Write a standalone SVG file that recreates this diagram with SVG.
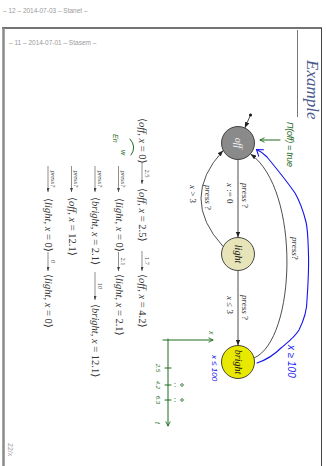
<svg xmlns="http://www.w3.org/2000/svg" width="326" height="466" viewBox="0 0 326 466">
<defs>
<style>
.hdr{font-family:"Liberation Sans",sans-serif;font-size:6.5px;fill:#9a9a9a}
.ttl{font-family:"Liberation Serif",serif;font-style:italic;font-size:17px;fill:#4b5a8c}
.st{stroke:#333;stroke-width:0.9}
.sl{font-family:"Liberation Serif",serif;font-style:italic;font-size:10px;text-anchor:middle}
.el{font-family:"Liberation Serif",serif;font-size:9px;fill:#333}
.i{font-style:italic}
.run{font-family:"Liberation Serif","DejaVu Serif",serif;font-size:10.5px;fill:#333}
.al{font-family:"Liberation Serif",serif;font-size:6.5px;fill:#444;text-anchor:middle}
.edge{fill:none;stroke:#222;stroke-width:0.8}
.ra{stroke:#444;stroke-width:0.6}
.blue{fill:none;stroke:#1414f0;stroke-width:1.1;stroke-linecap:round;stroke-linejoin:round}
.bt{font-family:"Liberation Sans",sans-serif;font-style:italic;fill:#1414f0}
.green{fill:none;stroke:#1f6b1f;stroke-width:1;stroke-linecap:round;stroke-linejoin:round}
.gt{font-family:"Liberation Sans",sans-serif;font-style:italic;fill:#1f6b1f}
</style>
<marker id="ah" viewBox="0 0 8 6" refX="8" refY="3" markerWidth="6" markerHeight="4.5" markerUnits="userSpaceOnUse" orient="auto"><path d="M0,0 L8,3 L0,6 Z" fill="#222"/></marker>
<marker id="ar" viewBox="0 0 8 6" refX="8" refY="3" markerWidth="4" markerHeight="3" markerUnits="userSpaceOnUse" orient="auto"><path d="M0,0 L8,3 L0,6 Z" fill="#444"/></marker>
<marker id="ag" viewBox="0 0 8 8" refX="7" refY="4" markerWidth="6" markerHeight="6" markerUnits="userSpaceOnUse" orient="auto"><path d="M1,1 L7,4 L1,7" fill="none" stroke="#1f6b1f" stroke-width="1.2"/></marker>
</defs>

<g id="page">
<text class="hdr" x="3" y="13">– 12 – 2014-07-03 – Stanet –</text>
<line x1="2" y1="28" x2="322" y2="28" stroke="#444" stroke-width="1.5"/>
<line x1="321.5" y1="28" x2="321.5" y2="466" stroke="#444" stroke-width="1"/>
<line x1="3.5" y1="28" x2="3.5" y2="466" stroke="#8a8a8a" stroke-width="2.5"/>
<text class="hdr" x="9" y="45">– 11 – 2014-07-01 – Stasem –</text>
</g>

<g id="slide" transform="translate(326,0) rotate(90)">
  <text class="ttl" x="60" y="19">Example</text>
  <line x1="30" y1="28.5" x2="117" y2="28.5" stroke="#777" stroke-width="1"/>
  <text class="hdr" x="443" y="318" style="font-size:7px">22/x</text>

  <g id="connectors">
    <circle cx="115" cy="75.5" r="1.5" fill="#111"/>
    <line class="edge" x1="115" y1="75.5" x2="128" y2="81.2" marker-end="url(#ah)"/>
    <line class="edge" x1="159.5" y1="88" x2="237.5" y2="88" marker-end="url(#ah)"/>
    <path class="edge" d="M246.6,102.8 Q198.5,147.2 150.4,102.8" marker-end="url(#ah)"/>
    <line class="edge" x1="270.5" y1="88" x2="345.5" y2="88" marker-end="url(#ah)"/>
    <path class="edge" d="M358,72 C340,30 190,25 154,75.5" marker-end="url(#ah)"/>
    <text class="el" x="183" y="84.5"><tspan class="i">press</tspan> ?</text>
    <text class="el" x="183" y="99"><tspan class="i">x</tspan> := 0</text>
    <text class="el" x="185" y="121"><tspan class="i">press</tspan> ?</text>
    <text class="el" x="185" y="136"><tspan class="i">x</tspan> &gt; 3</text>
    <text class="el" x="295" y="84.5"><tspan class="i">press</tspan> ?</text>
    <text class="el" x="296" y="99"><tspan class="i">x</tspan> ≤ 3</text>
    <text class="el" x="237" y="34.5"><tspan class="i">press</tspan>?</text>
  </g>

  <g id="off">
    <circle class="st" cx="143" cy="88" r="16.5" fill="#8a8a8a"/>
    <text class="sl" x="143" y="91.5" fill="#f2f2f2">off</text>
  </g>
  <g id="light">
    <circle class="st" cx="254" cy="88" r="16.5" fill="#e6e4b8"/>
    <text class="sl" x="254" y="91.5" fill="#222">light</text>
  </g>
  <g id="bright">
    <circle class="st" cx="362" cy="88" r="16.5" fill="#e8e800"/>
    <text class="sl" x="362" y="91.5" fill="#222">bright</text>
  </g>

  <g id="blue-notes">
    <path class="blue" d="M363,69 C360,60 355,52 348,45 C342,38 338,32 330,27 C320,22 310,19 300,19 C285,18 270,17 255,17.5 C240,18 230,18 222,20 C210,23 200,27 193,31 C180,40 168,50 157,59 C153,63 151,66 149.5,69.5"/>
    <path class="blue" d="M156.2,67.3 L149.5,69.5 L149.7,62.5"/>
    <text class="bt" x="345" y="38" style="font-size:10px">x ≥ 100</text>
    <text class="bt" x="355" y="114" style="font-size:8px">x ≤ 100</text>
  </g>

  <g id="green-notes">
    <text class="gt" x="122" y="39" style="font-size:9px" textLength="45">Π(off) = true</text>
    <line class="green" x1="140" y1="46" x2="140" y2="66" marker-end="url(#ag)"/>
    <line class="green" x1="339" y1="158" x2="426" y2="158" marker-end="url(#ag)"/>
    <line class="green" x1="340" y1="163" x2="340" y2="113" marker-end="url(#ag)"/>
    <line class="green" x1="368" y1="155" x2="368" y2="161"/>
    <line class="green" x1="385" y1="155" x2="385" y2="161"/>
    <line class="green" x1="400" y1="155" x2="400" y2="161"/>
    <text class="gt" x="368" y="170" style="font-size:6px" text-anchor="middle">2.5</text>
    <text class="gt" x="385" y="170" style="font-size:6px" text-anchor="middle">4.2</text>
    <text class="gt" x="400" y="170" style="font-size:6px" text-anchor="middle">6.3</text>
    <circle cx="385" cy="144" r="1.3" fill="none" stroke="#1f6b1f" stroke-width="0.8"/>
    <circle cx="400" cy="144" r="1.3" fill="none" stroke="#1f6b1f" stroke-width="0.8"/>
    <circle cx="383.5" cy="151" r="0.5" fill="#1f6b1f"/>
    <circle cx="386.5" cy="151" r="0.5" fill="#1f6b1f"/>
    <circle cx="398.5" cy="151" r="0.5" fill="#1f6b1f"/>
    <circle cx="401.5" cy="151" r="0.5" fill="#1f6b1f"/>
    <text class="gt" x="331" y="117" style="font-size:7px">x</text>
    <text class="gt" x="422" y="171" style="font-size:7px">t</text>
    <path class="green" d="M139,196 Q147,189 155,195"/>
    <text class="gt" x="134" y="213" style="font-size:7px">En</text>
    <text class="gt" x="150" y="205" style="font-size:7px">w</text>
  </g>

  <g id="run">
    <text class="run" x="118" y="187">⟨<tspan class="i">off</tspan>, <tspan class="i">x</tspan> = 0⟩</text>
    <line class="ra" x1="163" y1="184" x2="184" y2="184" marker-end="url(#ar)"/>
    <text class="al" x="173.5" y="181.5">2.5</text>
    <text class="run" x="188" y="187">⟨<tspan class="i">off</tspan>, <tspan class="i">x</tspan> = 2.5⟩</text>
    <line class="ra" x1="251" y1="184" x2="271" y2="184" marker-end="url(#ar)"/>
    <text class="al" x="261" y="181.5">1.7</text>
    <text class="run" x="274" y="187">⟨<tspan class="i">off</tspan>, <tspan class="i">x</tspan> = 4.2⟩</text>

    <line class="ra" x1="166" y1="207.5" x2="192" y2="207.5" marker-end="url(#ar)"/>
    <text class="al i" x="179" y="205">press?</text>
    <text class="run" x="198" y="210.5">⟨<tspan class="i">light</tspan>, <tspan class="i">x</tspan> = 0⟩</text>
    <line class="ra" x1="252" y1="207.5" x2="271" y2="207.5" marker-end="url(#ar)"/>
    <text class="al" x="261.5" y="205">2.1</text>
    <text class="run" x="274" y="210.5">⟨<tspan class="i">light</tspan>, <tspan class="i">x</tspan> = 2.1⟩</text>

    <line class="ra" x1="166" y1="231" x2="192" y2="231" marker-end="url(#ar)"/>
    <text class="al i" x="179" y="228.5">press?</text>
    <text class="run" x="197" y="234">⟨<tspan class="i">bright</tspan>, <tspan class="i">x</tspan> = 2.1⟩</text>
    <line class="ra" x1="272" y1="231" x2="300" y2="231" marker-end="url(#ar)"/>
    <text class="al" x="286" y="228.5">10</text>
    <text class="run" x="304" y="234">⟨<tspan class="i">bright</tspan>, <tspan class="i">x</tspan> = 12.1⟩</text>

    <line class="ra" x1="166" y1="254.5" x2="192" y2="254.5" marker-end="url(#ar)"/>
    <text class="al i" x="179" y="252">press?</text>
    <text class="run" x="197" y="257.5">⟨<tspan class="i">off</tspan>, <tspan class="i">x</tspan> = 12.1⟩</text>

    <line class="ra" x1="166" y1="278" x2="192" y2="278" marker-end="url(#ar)"/>
    <text class="al i" x="179" y="275.5">press?</text>
    <text class="run" x="198" y="281">⟨<tspan class="i">light</tspan>, <tspan class="i">x</tspan> = 0⟩</text>
    <line class="ra" x1="252" y1="278" x2="271" y2="278" marker-end="url(#ar)"/>
    <text class="al" x="261.5" y="275.5">0</text>
    <text class="run" x="274" y="281">⟨<tspan class="i">light</tspan>, <tspan class="i">x</tspan> = 0⟩</text>
  </g>
</g>
</svg>
